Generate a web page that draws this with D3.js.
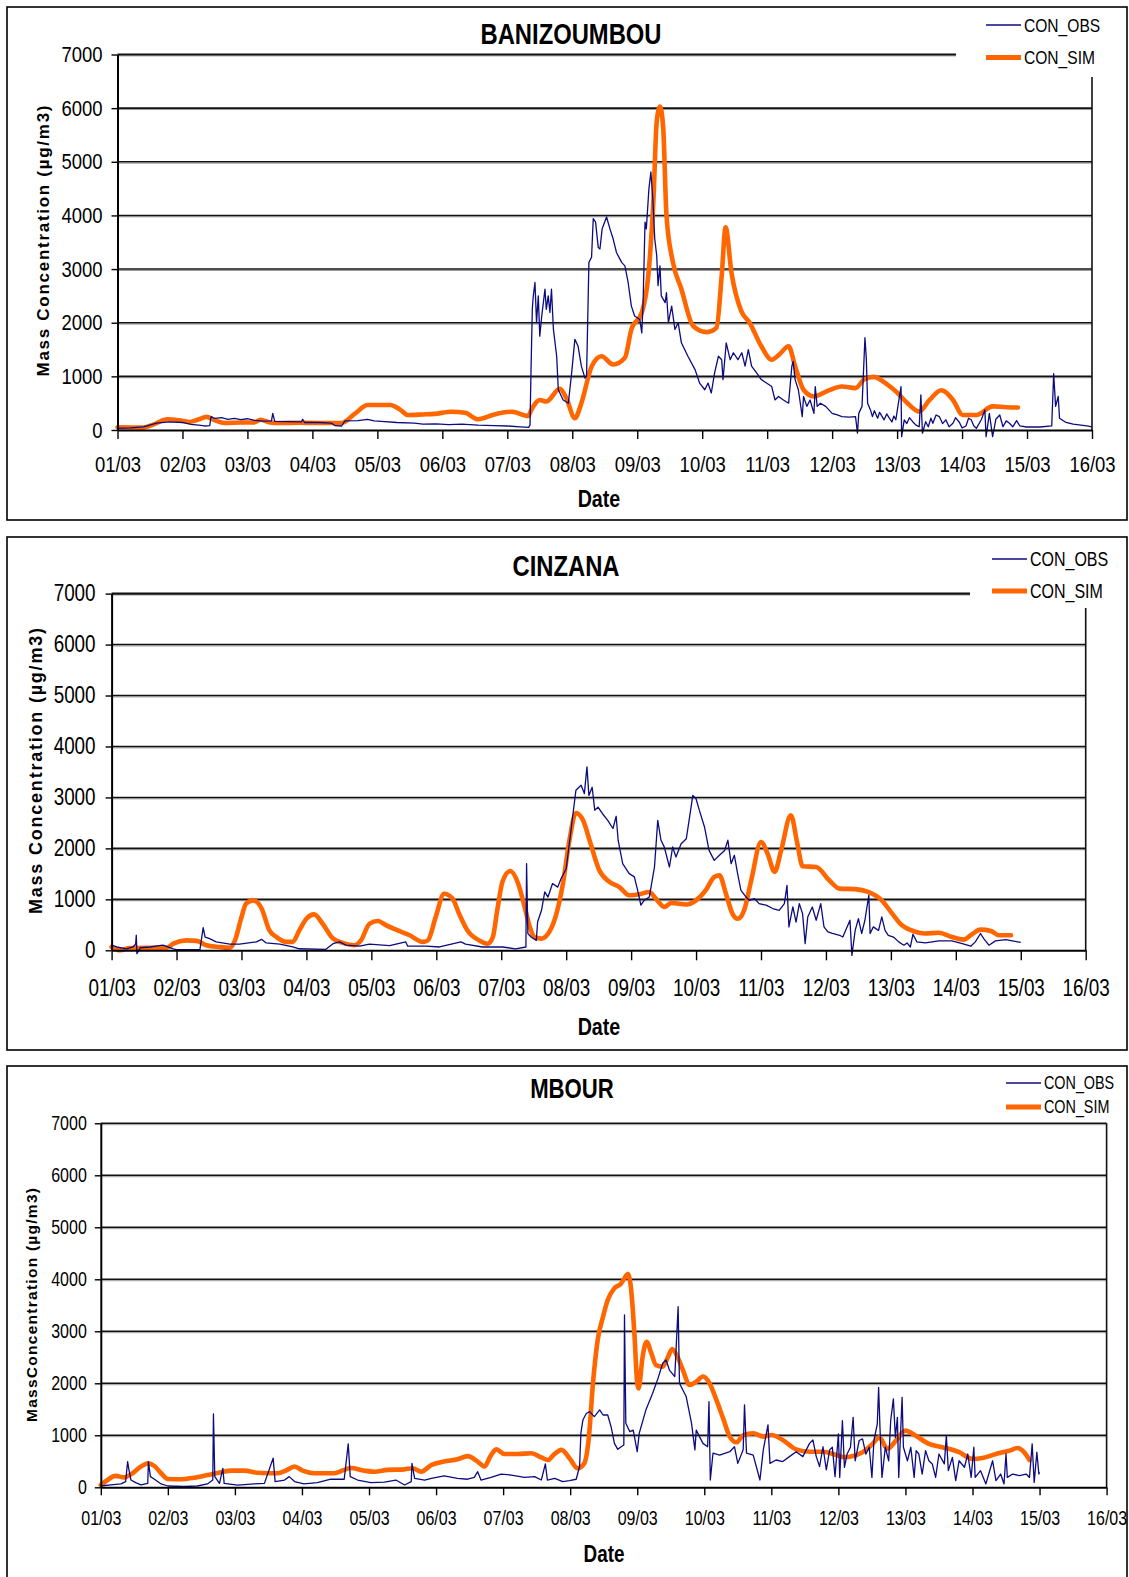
<!DOCTYPE html>
<html>
<head>
<meta charset="utf-8">
<title>Mass concentration, observed vs simulated</title>
<script src="https://d3js.org/d3.v7.min.js"></script>
<style>
  body { margin: 0; background: #fff; }
  svg { display: block; }
  .narrow { font-family: "Liberation Sans Narrow", "Arial Narrow", "Liberation Sans", Arial, sans-serif; }
  .wide { font-family: "Liberation Sans", Arial, sans-serif; }
</style>
</head>
<body>
<svg id="chart" width="1129" height="1577"></svg>
<script>
// ---- data (x = days since 01/03, y = µg/m3) ----
const dateLabels = ["01/03","02/03","03/03","04/03","05/03","06/03","07/03","08/03",
  "09/03","10/03","11/03","12/03","13/03","14/03","15/03","16/03"];
const yTicks = [0, 1000, 2000, 3000, 4000, 5000, 6000, 7000];
const seriesNames = ["CON_OBS", "CON_SIM"];

const banizoumbouObs = [[0,30],[0.2,40],[0.4,60],[0.6,130],[0.8,150],[1.0,140],[1.13,105],[1.25,90],[1.34,75],
  [1.42,80],[1.44,250],[1.5,215],[1.6,230],[1.7,200],[1.8,215],[1.9,195],[2.0,210],[2.11,180],[2.25,165],
  [2.37,170],[2.39,310],[2.42,160],[2.6,155],[2.83,150],[2.85,200],[2.88,140],[3.1,140],[3.29,130],[3.35,80],
  [3.45,75],[3.5,170],[3.7,175],[3.85,200],[3.95,170],[4.06,160],[4.3,140],[4.57,130],[4.7,110],[4.9,115],
  [5.1,100],[5.3,110],[5.55,90],[5.8,80],[6.0,75],[6.2,60],[6.33,50],[6.35,95],[6.364,1060],[6.385,2250],
  [6.4,2500],[6.426,2750],[6.45,2000],[6.477,2500],[6.5,1750],[6.53,2125],[6.58,2625],[6.6,2250],[6.63,2500],
  [6.656,2190],[6.68,2625],[6.71,1875],[6.76,1375],[6.785,750],[6.86,560],[6.94,500],[6.99,1060],[7.04,1690],
  [7.09,1560],[7.14,1190],[7.195,970],[7.22,1000],[7.256,3125],[7.297,3220],[7.323,3940],[7.359,3875],
  [7.4,3400],[7.426,3375],[7.46,3750],[7.528,3970],[7.58,3750],[7.63,3560],[7.68,3310],[7.76,3125],[7.81,3060],
  [7.86,2750],[7.91,2310],[7.96,2125],[8.04,2060],[8.07,1810],[8.09,2375],[8.12,3875],[8.14,3750],[8.18,4500],
  [8.21,4810],[8.24,4310],[8.27,3560],[8.3,3250],[8.32,2690],[8.35,3060],[8.37,2500],[8.43,2375],[8.45,2560],
  [8.48,2000],[8.53,2310],[8.58,1875],[8.63,2000],[8.68,1625],[8.78,1375],[8.89,1125],[8.96,875],[9.04,750],
  [9.09,875],[9.14,690],[9.19,1060],[9.25,1375],[9.3,1310],[9.32,940],[9.37,1625],[9.43,1310],[9.48,1440],
  [9.55,1310],[9.61,1440],[9.66,1190],[9.71,1500],[9.76,1190],[9.84,1060],[9.91,940],[9.99,875],[10.07,810],
  [10.12,560],[10.175,625],[10.25,560],[10.33,500],[10.38,1190],[10.4,1280],[10.43,940],[10.48,750],[10.54,250],
  [10.56,625],[10.61,440],[10.66,560],[10.72,310],[10.74,810],[10.77,440],[10.82,500],[10.9,440],[11.0,310],
  [11.08,280],[11.15,250],[11.26,240],[11.36,250],[11.39,-60],[11.41,310],[11.46,440],[11.505,1720],
  [11.526,1340],[11.546,500],[11.59,375],[11.62,250],[11.65,360],[11.7,220],[11.73,330],[11.77,250],[11.8,190],
  [11.84,300],[11.88,220],[11.92,150],[11.95,260],[11.98,190],[12.06,810],[12.07,-125],[12.11,190],[12.15,120],
  [12.19,230],[12.24,155],[12.29,90],[12.34,60],[12.366,655],[12.39,-60],[12.44,155],[12.48,60],[12.52,220],
  [12.55,125],[12.6,280],[12.65,250],[12.7,120],[12.75,190],[12.8,60],[12.86,125],[12.9,230],[12.96,140],
  [13.0,40],[13.06,75],[13.1,220],[13.14,190],[13.18,80],[13.22,30],[13.3,200],[13.35,375],[13.37,-125],
  [13.42,310],[13.47,-125],[13.52,200],[13.58,280],[13.63,60],[13.68,170],[13.73,125],[13.78,60],[13.84,175],
  [13.89,75],[13.99,56],[14.2,56],[14.38,75],[14.41,1050],[14.44,440],[14.48,625],[14.5,220],[14.6,140],
  [14.71,110],[14.92,75],[15.0,60]];

const banizoumbouSim = [[0,50],[0.4,45],[0.55,100],[0.77,200],[0.95,180],[1.1,150],[1.25,200],[1.37,245],
  [1.5,180],[1.65,130],[1.9,140],[2.1,140],[2.2,190],[2.35,140],[2.5,130],[2.8,135],[3.1,130],[3.45,130],
  [3.65,300],[3.85,465],[4.2,465],[4.35,380],[4.47,280],[4.7,290],[4.88,300],[5.14,340],[5.35,320],[5.55,200],
  [5.8,290],[6.07,340],[6.32,260],[6.37,375],[6.5,560],[6.6,530],[6.81,770],[6.91,590],[7.04,220],[7.14,500],
  [7.3,1190],[7.45,1375],[7.63,1220],[7.81,1345],[7.91,1875],[8.07,2190],[8.17,2875],[8.25,4310],[8.3,5750],
  [8.35,6030],[8.4,5625],[8.45,4000],[8.55,3125],[8.68,2625],[8.86,1940],[9.07,1825],[9.22,1905],[9.3,2875],
  [9.36,3780],[9.45,2940],[9.6,2220],[9.73,2000],[9.91,1560],[10.07,1310],[10.18,1400],[10.33,1560],
  [10.43,1190],[10.56,750],[10.72,625],[10.95,740],[11.15,810],[11.36,780],[11.49,940],[11.64,990],
  [11.82,875],[11.98,720],[12.16,500],[12.34,345],[12.5,560],[12.68,740],[12.86,560],[13.01,280],[13.22,280],
  [13.47,440],[13.68,425],[13.86,420]];

const cinzanaObs = [[0,100],[0.08,65],[0.23,30],[0.33,65],[0.37,120],[0.38,295],[0.39,-65],[0.44,50],[0.59,65],
  [0.79,100],[0.95,30],[1.0,15],[1.36,15],[1.41,445],[1.44,260],[1.51,230],[1.61,165],[1.82,120],[1.97,120],
  [2.23,165],[2.31,215],[2.38,145],[2.59,120],[2.79,65],[2.89,30],[3.3,20],[3.41,130],[3.51,165],[3.61,100],
  [3.82,80],[3.97,120],[4.28,90],[4.53,165],[4.56,80],[4.84,80],[5.05,65],[5.38,165],[5.45,120],[5.71,65],
  [6.02,65],[6.22,30],[6.38,65],[6.39,1700],[6.41,330],[6.46,260],[6.54,195],[6.56,555],[6.62,785],[6.67,1145],
  [6.72,1045],[6.79,1310],[6.87,1240],[6.92,1405],[7.0,1600],[7.08,2420],[7.15,3140],[7.23,3240],[7.28,3075],
  [7.32,3600],[7.35,3040],[7.4,3200],[7.44,2750],[7.49,2810],[7.56,2680],[7.64,2550],[7.72,2390],[7.77,2630],
  [7.8,2160],[7.87,1700],[7.97,1505],[8.05,1440],[8.1,1180],[8.15,885],[8.2,980],[8.28,1045],[8.36,1635],
  [8.41,2550],[8.46,2160],[8.51,2030],[8.59,1635],[8.64,2030],[8.69,1830],[8.77,2090],[8.85,2190],[8.9,2615],
  [8.95,3040],[9.0,2975],[9.05,2750],[9.13,2420],[9.2,1960],[9.28,1765],[9.36,1865],[9.44,1960],[9.49,2160],
  [9.54,1700],[9.59,1865],[9.64,1505],[9.69,1180],[9.77,1045],[9.82,980],[9.9,1015],[9.97,915],[10.08,885],
  [10.18,820],[10.28,785],[10.36,915],[10.4,1275],[10.43,460],[10.49,850],[10.54,555],[10.59,915],[10.64,720],
  [10.68,130],[10.72,655],[10.79,850],[10.85,590],[10.92,915],[10.97,460],[11.03,360],[11.1,330],[11.21,295],
  [11.26,260],[11.37,590],[11.4,-100],[11.45,390],[11.5,620],[11.55,330],[11.6,590],[11.66,1080],[11.68,330],
  [11.73,460],[11.81,390],[11.86,655],[11.91,390],[11.96,295],[12.04,260],[12.12,165],[12.2,100],[12.25,145],
  [12.3,65],[12.34,315],[12.4,165],[12.53,145],[12.74,185],[12.94,185],[13.1,130],[13.23,80],[13.3,165],
  [13.38,330],[13.43,230],[13.51,100],[13.61,185],[13.77,210],[13.87,185],[14.0,155]];

const cinzanaSim = [[0,65],[0.13,0],[0.28,45],[0.85,50],[0.95,130],[1.15,195],[1.31,185],[1.46,100],[1.66,65],
  [1.82,50],[1.9,195],[2.0,650],[2.07,915],[2.18,980],[2.31,820],[2.43,390],[2.54,260],[2.69,165],[2.79,165],
  [2.89,390],[3.0,620],[3.12,705],[3.25,520],[3.41,230],[3.56,145],[3.74,100],[3.84,195],[3.97,520],[4.1,575],
  [4.23,490],[4.38,405],[4.59,295],[4.79,165],[4.87,195],[4.99,650],[5.12,1110],[5.25,1015],[5.35,720],
  [5.48,390],[5.66,195],[5.79,130],[5.87,260],[5.94,800],[6.02,1350],[6.14,1556],[6.26,1310],[6.36,850],
  [6.44,460],[6.51,260],[6.62,230],[6.74,360],[6.85,720],[6.95,1310],[7.05,2160],[7.15,2695],[7.26,2550],
  [7.36,2160],[7.51,1570],[7.67,1340],[7.82,1240],[7.97,1080],[8.13,1100],[8.28,1145],[8.38,1015],[8.51,850],
  [8.62,930],[8.85,900],[9.0,980],[9.15,1180],[9.28,1440],[9.36,1470],[9.46,1110],[9.56,720],[9.64,620],
  [9.74,785],[9.85,1375],[10.0,2125],[10.1,1900],[10.21,1540],[10.31,1960],[10.46,2650],[10.56,2090],
  [10.64,1650],[10.85,1635],[11.05,1375],[11.21,1210],[11.45,1200],[11.65,1145],[11.86,980],[12.02,720],
  [12.17,490],[12.32,390],[12.53,330],[12.74,345],[12.94,260],[13.12,210],[13.25,315],[13.38,405],[13.54,380],
  [13.66,295],[13.85,295]];

const mbourObs = [[0,25],[0.15,45],[0.3,65],[0.37,110],[0.4,495],[0.42,335],[0.45,140],[0.52,90],[0.6,45],
  [0.7,75],[0.71,495],[0.74,205],[0.8,155],[0.9,65],[1.0,25],[1.24,15],[1.44,25],[1.59,65],[1.67,140],
  [1.68,1410],[1.7,205],[1.77,75],[1.82,365],[1.84,75],[2.04,40],[2.29,65],[2.44,75],[2.57,560],[2.6,110],
  [2.74,140],[2.81,205],[2.89,110],[3.03,65],[3.23,90],[3.43,155],[3.63,155],[3.69,835],[3.72,205],[3.83,140],
  [4.03,90],[4.23,100],[4.4,140],[4.53,45],[4.63,110],[4.64,460],[4.68,170],[4.83,140],[4.93,170],[5.12,220],
  [5.32,170],[5.47,155],[5.57,190],[5.62,300],[5.67,140],[5.82,190],[5.97,255],[6.12,235],[6.32,190],[6.47,205],
  [6.57,140],[6.63,450],[6.66,140],[6.77,170],[6.89,110],[6.99,130],[7.09,155],[7.14,400],[7.16,1040],
  [7.19,1295],[7.24,1420],[7.29,1455],[7.36,1360],[7.44,1490],[7.49,1390],[7.56,1390],[7.61,1165],[7.66,845],
  [7.71,730],[7.76,780],[7.8,815],[7.81,3315],[7.83,1230],[7.89,1070],[7.94,1100],[8.0,685],[8.03,1040],
  [8.13,1490],[8.23,1810],[8.31,2095],[8.38,2385],[8.43,2450],[8.48,2255],[8.56,2130],[8.61,3475],[8.63,2000],
  [8.68,1870],[8.73,1745],[8.81,1230],[8.86,720],[8.88,1100],[8.98,845],[9.05,780],[9.07,1645],[9.09,140],
  [9.13,655],[9.23,620],[9.38,685],[9.45,780],[9.5,460],[9.58,720],[9.6,1585],[9.63,655],[9.73,620],[9.83,140],
  [9.88,720],[9.95,1200],[9.98,460],[10.07,525],[10.17,495],[10.27,590],[10.37,685],[10.47,590],[10.57,845],
  [10.62,910],[10.67,590],[10.72,400],[10.77,780],[10.82,335],[10.87,720],[10.91,770],[10.95,205],[11.0,1025],
  [11.02,190],[11.06,1280],[11.09,385],[11.13,640],[11.18,770],[11.22,1345],[11.25,510],[11.31,900],
  [11.36,930],[11.41,640],[11.46,770],[11.5,190],[11.53,900],[11.58,1215],[11.6,1920],[11.62,1155],[11.65,190],
  [11.7,770],[11.75,510],[11.78,1280],[11.82,1700],[11.85,960],[11.88,1345],[11.9,190],[11.95,1730],
  [11.97,770],[12.03,510],[12.08,770],[12.13,190],[12.16,705],[12.2,640],[12.25,255],[12.3,705],[12.35,510],
  [12.4,450],[12.45,190],[12.5,640],[12.58,450],[12.61,995],[12.64,320],[12.7,575],[12.75,130],[12.8,510],
  [12.88,385],[12.93,640],[12.98,190],[13.02,770],[13.04,190],[13.12,320],[13.2,65],[13.25,290],[13.3,510],
  [13.35,130],[13.42,255],[13.47,65],[13.5,640],[13.52,190],[13.6,255],[13.7,225],[13.8,255],[13.85,190],
  [13.89,835],[13.92,95],[13.96,675],[13.99,255],[14.0,290]];

const mbourSim = [[0,45],[0.1,140],[0.22,220],[0.35,190],[0.45,250],[0.6,400],[0.7,460],[0.8,410],[0.9,270],
  [1.0,160],[1.19,155],[1.39,185],[1.59,235],[1.79,290],[1.94,320],[2.14,320],[2.34,280],[2.64,270],[2.76,320],
  [2.89,400],[3.01,320],[3.18,270],[3.48,270],[3.63,335],[3.73,370],[3.93,320],[4.08,300],[4.28,335],[4.53,345],
  [4.65,365],[4.78,300],[4.93,430],[5.12,495],[5.32,540],[5.47,600],[5.62,495],[5.72,400],[5.82,620],[5.9,730],
  [6.02,640],[6.22,640],[6.42,655],[6.57,575],[6.67,525],[6.75,620],[6.87,720],[6.99,560],[7.11,365],[7.21,460],
  [7.28,975],[7.34,2000],[7.41,2830],[7.49,3280],[7.56,3600],[7.66,3830],[7.76,3920],[7.81,4020],[7.86,4100],
  [7.91,3795],[7.96,2900],[8.0,2000],[8.02,1900],[8.08,2510],[8.14,2800],[8.21,2580],[8.28,2350],[8.38,2320],
  [8.46,2510],[8.52,2660],[8.61,2480],[8.68,2260],[8.78,1970],[8.88,2030],[8.98,2130],[9.08,2000],[9.18,1680],
  [9.28,1330],[9.38,975],[9.48,865],[9.58,1005],[9.73,1040],[9.88,975],[10.0,1005],[10.17,910],[10.37,730],
  [10.57,685],[10.77,685],[10.97,620],[11.08,580],[11.36,675],[11.51,835],[11.61,960],[11.73,740],[11.86,900],
  [12.0,1090],[12.15,995],[12.35,835],[12.55,770],[12.8,675],[13.0,545],[13.15,565],[13.35,640],[13.55,705],
  [13.67,755],[13.77,675],[13.85,525]];

// ---- layout of the three panels ----
const panels = [
  { title: "BANIZOUMBOU", yTitle: "Mass Concentration (µg/m3)", obs: banizoumbouObs, sim: banizoumbouSim,
    box: [7, 7, 1120, 513], x0: 117.5, x1: 1092, yTop: 54.5, yBot: 430,
    titleX: 571, titleY: 43.5, titleSize: 29,
    tick: 22.5, xTickLen: 9, xPad: 17, yPad: 9,
    yTitleX: 43, yTitleY: 241, yTitleLen: 271, yTitleSize: 17,
    dateY: 507, dateX: 599, dateSize: 24,
    mask: [956, 9, 169, 68], topLineEnd: 956,
    legX: 986, legY: [25, 57.5], legSize: 19 },
  { title: "CINZANA", yTitle: "Mass Concentration (µg/m3)", obs: cinzanaObs, sim: cinzanaSim,
    box: [7, 537, 1120, 513], x0: 111.6, x1: 1085.7, yTop: 593.6, yBot: 950.3,
    titleX: 566, titleY: 575.5, titleSize: 29,
    tick: 23, xTickLen: 10, xPad: 19, yPad: 10,
    yTitleX: 36, yTitleY: 771, yTitleLen: 286, yTitleSize: 18,
    dateY: 1035, dateX: 599, dateSize: 24,
    mask: [970, 539, 155, 69], topLineEnd: 970,
    legX: 992, legY: [559, 591], legSize: 19.5 },
  { title: "MBOUR", yTitle: "MassConcentration (µg/m3)", obs: mbourObs, sim: mbourSim,
    box: [7, 1066, 1120, 530], x0: 100.8, x1: 1106.6, yTop: 1123.3, yBot: 1487.3,
    titleX: 572, titleY: 1097.5, titleSize: 27,
    tick: 19.5, xTickLen: 8, xPad: 16, yPad: 8,
    yTitleX: 32, yTitleY: 1305, yTitleLen: 234, yTitleSize: 15.5,
    dateY: 1562, dateX: 604, dateSize: 23,
    mask: null, topLineEnd: null,
    legX: 1006, legY: [1083, 1107], legSize: 17.5 }
];

const svg = d3.select("#chart");
const obsColor = "#0c0c80";
const simColor = "#ff6600";

// the original uses a condensed face; squeeze the regular one if no narrow font is installed
function squeeze(sel) {
  sel.each(function () {
    const w = this.getComputedTextLength();
    d3.select(this).attr("textLength", w * 0.82).attr("lengthAdjust", "spacingAndGlyphs");
  });
}

function drawPanel(p) {
  const g = svg.append("g");

  g.append("rect")
    .attr("x", p.box[0]).attr("y", p.box[1])
    .attr("width", p.box[2]).attr("height", p.box[3])
    .attr("fill", "#fff").attr("stroke", "#000").attr("stroke-width", 1.6);

  const x = d3.scaleLinear().domain([0, 15]).range([p.x0, p.x1]);
  const y = d3.scaleLinear().domain([0, 7000]).range([p.yBot, p.yTop]);

  // gridlines (dark line with a grey shadow, Excel style)
  const grid = g.append("g");
  const lineEnd = d => d === 7000 && p.topLineEnd ? p.topLineEnd : p.x1;
  grid.selectAll(".shadow").data(yTicks.filter(d => d > 0)).join("line")
    .attr("class", "shadow")
    .attr("x1", p.x0).attr("x2", lineEnd)
    .attr("y1", d => y(d) + 1.4).attr("y2", d => y(d) + 1.4)
    .attr("stroke", "#9a9a9a").attr("stroke-width", 1);
  grid.selectAll(".grid").data(yTicks.filter(d => d > 0)).join("line")
    .attr("class", "grid")
    .attr("x1", p.x0).attr("x2", lineEnd)
    .attr("y1", d => y(d)).attr("y2", d => y(d))
    .attr("stroke", "#111").attr("stroke-width", d => d === 7000 && p.topLineEnd ? 2.2 : 1.6);

  // right border of the plot area
  g.append("line")
    .attr("x1", p.x1).attr("x2", p.x1).attr("y1", p.yTop).attr("y2", p.yBot)
    .attr("stroke", "#111").attr("stroke-width", 1.6);

  // series
  const simLine = d3.line().x(d => x(d[0])).y(d => y(d[1])).curve(d3.curveMonotoneX);
  const obsLine = d3.line().x(d => x(d[0])).y(d => y(d[1]));

  g.append("path").datum(p.sim)
    .attr("d", simLine).attr("fill", "none")
    .attr("stroke", simColor).attr("stroke-width", 4.6)
    .attr("stroke-linejoin", "round").attr("stroke-linecap", "round");

  g.append("path").datum(p.obs)
    .attr("d", obsLine).attr("fill", "none")
    .attr("stroke", obsColor).attr("stroke-width", 1.3)
    .attr("stroke-linejoin", "round");

  // axes
  const xAxis = d3.axisBottom(x)
    .tickValues(d3.range(dateLabels.length))
    .tickFormat(i => dateLabels[i])
    .tickSize(p.xTickLen).tickSizeOuter(0).tickPadding(p.xPad);
  const xg = g.append("g").attr("transform", `translate(0,${p.yBot})`).call(xAxis);

  const yAxis = d3.axisLeft(y)
    .tickValues(yTicks)
    .tickFormat(d3.format("d"))
    .tickSize(6).tickSizeOuter(0).tickPadding(p.yPad);
  const yg = g.append("g").attr("transform", `translate(${p.x0},0)`).call(yAxis);

  [xg, yg].forEach(a => {
    a.select(".domain").attr("stroke", "#000").attr("stroke-width", 2);
    a.selectAll(".tick line").attr("stroke", "#000").attr("stroke-width", 1.4);
    a.selectAll(".tick text")
      .attr("class", "narrow")
      .attr("fill", "#000")
      .style("font-size", p.tick + "px");
  });

  // legend (its box hides the top gridline end and the top of the right border)
  if (p.mask) {
    g.append("rect")
      .attr("x", p.mask[0]).attr("y", p.mask[1])
      .attr("width", p.mask[2]).attr("height", p.mask[3])
      .attr("fill", "#fff");
  }
  const leg = g.append("g");
  seriesNames.forEach((name, i) => {
    leg.append("line")
      .attr("x1", p.legX).attr("x2", p.legX + 35)
      .attr("y1", p.legY[i]).attr("y2", p.legY[i])
      .attr("stroke", i === 0 ? obsColor : simColor)
      .attr("stroke-width", i === 0 ? 1.5 : 5);
    leg.append("text")
      .attr("class", "narrow")
      .attr("x", p.legX + 38).attr("y", p.legY[i] + p.legSize * 0.36)
      .style("font-size", p.legSize + "px")
      .text(name);
  });

  // titles
  g.append("text")
    .attr("class", "narrow")
    .attr("x", p.titleX).attr("y", p.titleY)
    .attr("text-anchor", "middle")
    .style("font-size", p.titleSize + "px").style("font-weight", "bold")
    .text(p.title);

  g.append("text")
    .attr("class", "narrow")
    .attr("x", p.dateX).attr("y", p.dateY)
    .attr("text-anchor", "middle")
    .style("font-size", p.dateSize + "px").style("font-weight", "bold")
    .text("Date");

  g.append("text")
    .attr("class", "wide")
    .attr("transform", `translate(${p.yTitleX},${p.yTitleY}) rotate(-90)`)
    .attr("text-anchor", "middle")
    .attr("dy", "0.35em")
    .attr("textLength", p.yTitleLen)
    .attr("lengthAdjust", "spacing")
    .style("font-size", p.yTitleSize + "px").style("font-weight", "bold")
    .text(p.yTitle);
}

panels.forEach(drawPanel);
squeeze(svg.selectAll("text.narrow"));
</script>
</body>
</html>
